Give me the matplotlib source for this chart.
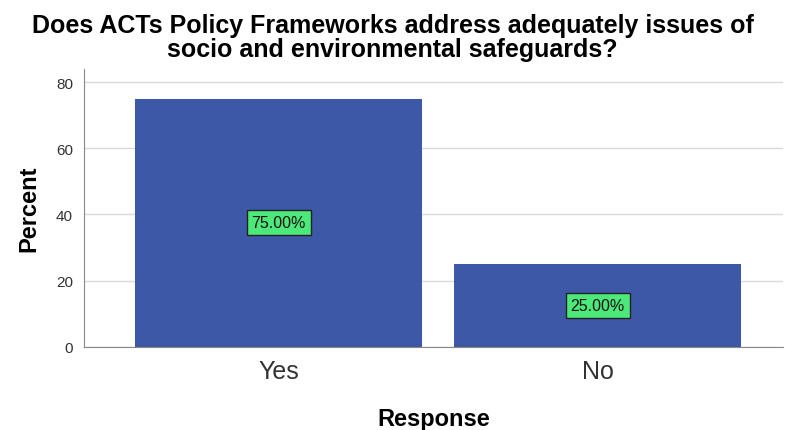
import matplotlib.pyplot as plt

plt.rcParams['font.family'] = ['Liberation Sans', 'DejaVu Sans']

# data
responses = ['Yes', 'No']
percents = [75.0, 25.0]
yticks = [0, 20, 40, 60, 80]

fig = plt.figure(figsize=(7.85, 4.31), dpi=100)
ax = fig.add_axes([0.107, 0.193, 0.890, 0.645])

xpos = range(len(responses))
ax.bar(xpos, percents, width=0.9, color='#3e58a8', zorder=2)

# value labels in green boxes
for x, v in zip(xpos, percents):
    ax.text(x, v / 2, '%.2f%%' % v, ha='center', va='center', fontsize=11.5,
            color='#111111', zorder=3,
            bbox=dict(boxstyle='square,pad=0.3', facecolor='#4ce87a',
                      edgecolor='#222222', linewidth=1))

ax.set_xlim(-0.61, 1.58)
ax.set_ylim(0, 84)
ax.set_yticks(yticks)
ax.set_xticks(list(xpos))
ax.set_xticklabels(responses, fontsize=18, color='#333333')
ax.tick_params(axis='y', labelsize=11, colors='#333333', length=0, pad=8)
ax.tick_params(axis='x', length=0, pad=9)
ax.yaxis.grid(True, color='#d9d9d9', linewidth=1, zorder=0)
ax.set_axisbelow(True)

for s in ['top', 'right']:
    ax.spines[s].set_visible(False)
for s in ['left', 'bottom']:
    ax.spines[s].set_color('#888888')

ax.set_ylabel('Percent', fontsize=17, fontweight='bold', labelpad=11)
ax.set_xlabel('Response', fontsize=17, fontweight='bold', labelpad=17)
fig.text(0.5, 1 - 38.5 / 431,
         'Does ACTs Policy Frameworks address adequately issues of\nsocio and environmental safeguards?',
         ha='center', va='center', fontsize=18, fontweight='bold', linespacing=1.0)

fig.savefig('out.png', dpi=100)
